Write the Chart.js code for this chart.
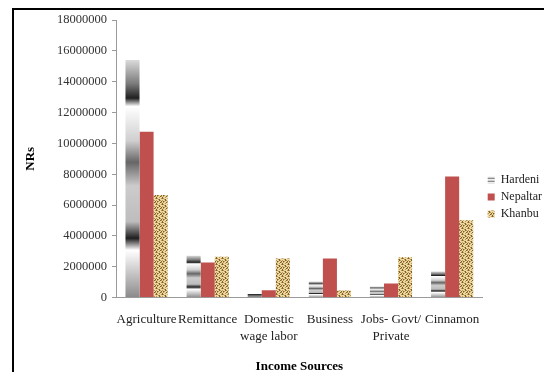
<!DOCTYPE html>
<html>
<head>
<meta charset="utf-8">
<script src="https://cdn.jsdelivr.net/npm/chart.js@4/dist/chart.umd.min.js"></script>
<style>
  body { margin: 0; background: #fff; overflow: hidden; }
  #frame { position: absolute; left: 12px; top: 8px; width: 600px; height: 400px; border: 2.5px solid #000; }
  #wrap { position: absolute; left: 0; top: 0; width: 544px; height: 372px; }
</style>
</head>
<body>
<div id="frame"></div>
<div id="wrap"><canvas id="myChart" width="544" height="372"></canvas></div>
<script>
// Income by source for the three villages (NRs)
const categories = ['Agriculture', 'Remittance', ['Domestic', 'wage labor'], 'Business', ['Jobs- Govt/', 'Private'], 'Cinnamon']
const hardeni = [15400000, 2720000, 240000, 1040000, 720000, 1700000]
const nepaltar = [10760000, 2280000, 480000, 2540000, 910000, 7850000]
const khanbu = [6650000, 2650000, 2540000, 460000, 2610000, 5020000]
const yTicks = { min: 0, max: 18000000, step: 2000000 }

const serif = '"Liberation Serif", "Times New Roman", serif'

// little stripes for the Hardeni legend box
function makeStripes() {
    const c = document.createElement('canvas')
    c.width = 1; c.height = 3
    const g = c.getContext('2d')
    g.fillStyle = '#d0d0d0'; g.fillRect(0, 0, 1, 1)
    g.fillStyle = '#8a8a8a'; g.fillRect(0, 1, 1, 1)
    g.fillStyle = '#efefef'; g.fillRect(0, 2, 1, 1)
    return g.createPattern(c, 'repeat')
}

// burlap like texture for Khanbu
function makeBurlap() {
    const rows = [
        'DMLLLM',
        'LLMDLL',
        'MLLDML',
        'LDMLLD',
        'LMLLDM',
        'DLLMLL'
    ]
    const shades = { D: '#7f5e28', M: '#b9964f', L: '#ecd8a2' }
    const c = document.createElement('canvas')
    c.width = 6; c.height = 6
    const g = c.getContext('2d')
    rows.forEach((row, y) => {
        row.split('').forEach((k, x) => {
            g.fillStyle = shades[k]
            g.fillRect(x, y, 1, 1)
        })
    })
    return g.createPattern(c, 'repeat')
}

const stripes = makeStripes()
const burlap = makeBurlap()

// grey picture-fill look: a vertical gradient stretched over each bar
function hardeniFill(context) {
    const chart = context.chart
    const y = chart.scales.y
    if (context.type !== 'data' || !y || !chart.chartArea) return '#aaaaaa'
    const top = y.getPixelForValue(context.raw)
    const base = y.getPixelForValue(0)
    if (!isFinite(top) || base - top < 1) return '#aaaaaa'
    const g = chart.ctx.createLinearGradient(0, top, 0, base)
    g.addColorStop(0, '#dadada')
    g.addColorStop(0.10, '#7a7a7a')
    g.addColorStop(0.16, '#202020')
    g.addColorStop(0.195, '#ffffff')
    g.addColorStop(0.34, '#cfcfcf')
    g.addColorStop(0.43, '#666666')
    g.addColorStop(0.53, '#cccccc')
    g.addColorStop(0.68, '#bdbdbd')
    g.addColorStop(0.75, '#1e1e1e')
    g.addColorStop(0.80, '#ffffff')
    g.addColorStop(1, '#8a8a8a')
    return g
}

function drawChart() {
    const ctx = document.getElementById('myChart').getContext('2d')

    const myChart = new Chart(ctx, {
        type: 'bar',
        data: {
            labels: categories,
            datasets: [
                { label: 'Hardeni', data: hardeni, backgroundColor: hardeniFill },
                { label: 'Nepaltar', data: nepaltar, backgroundColor: '#c0504d' },
                { label: 'Khanbu', data: khanbu, backgroundColor: burlap }
            ]
        },
        options: {
            responsive: false,
            animation: false,
            devicePixelRatio: 1,
            categoryPercentage: 0.69,
            barPercentage: 1,
            layout: { padding: { left: 18, right: -8, top: 20, bottom: -2 } },
            plugins: {
                tooltip: { enabled: false },
                legend: {
                    position: 'right',
                    labels: {
                        font: { family: serif, size: 12 },
                        color: '#222',
                        boxWidth: 7,
                        boxHeight: 7,
                        padding: 5,
                        generateLabels: chart => {
                            const items = Chart.defaults.plugins.legend.labels.generateLabels(chart)
                            items.forEach(item => {
                                if (item.datasetIndex === 0) item.fillStyle = stripes
                                item.lineWidth = 0
                                item.strokeStyle = 'rgba(0,0,0,0)'
                            })
                            return items
                        }
                    }
                }
            },
            scales: {
                x: {
                    grid: { display: false },
                    border: { color: '#9a9a9a' },
                    ticks: {
                        font: { family: serif, size: 13, lineHeight: 1.3 },
                        color: '#222',
                        maxRotation: 0,
                        autoSkip: false,
                        padding: 6
                    },
                    title: {
                        display: true,
                        text: 'Income Sources',
                        font: { family: serif, size: 13, weight: 'bold' },
                        color: '#000',
                        padding: { top: 7, bottom: 0 }
                    }
                },
                y: {
                    min: yTicks.min,
                    max: yTicks.max,
                    grid: { drawOnChartArea: false, tickLength: 4, color: '#9a9a9a' },
                    border: { color: '#9a9a9a' },
                    ticks: {
                        stepSize: yTicks.step,
                        font: { family: serif, size: 12.5 },
                        color: '#333',
                        padding: 5,
                        callback: value => String(value)
                    },
                    title: {
                        display: true,
                        text: 'NRs',
                        font: { family: serif, size: 13, weight: 'bold' },
                        color: '#000',
                        padding: { top: 5, bottom: 4 }
                    },
                    afterFit: scale => { scale.width = 98 }
                }
            }
        }
    })
}

window.onload = () => {
    drawChart()
}
</script>
</body>
</html>
